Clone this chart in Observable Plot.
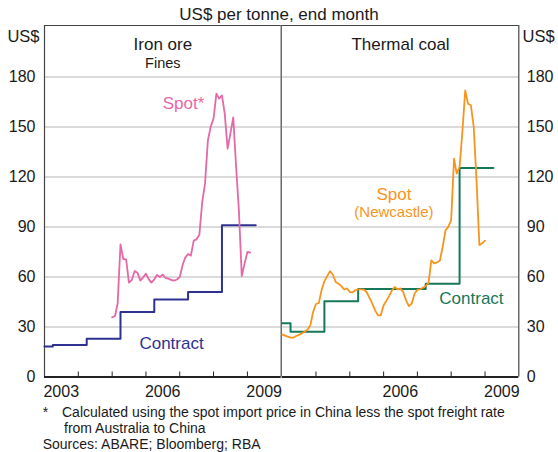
<!DOCTYPE html>
<html><head><meta charset="utf-8">
<script src="https://cdn.jsdelivr.net/npm/d3@7"></script>
<script src="https://cdn.jsdelivr.net/npm/@observablehq/plot@0.6"></script>
<style>
body{margin:0;background:#fff;font-family:"Liberation Sans",Arial,sans-serif;color:#1a1a1a}
#wrap{position:relative;width:558px;height:452px;overflow:hidden}
#title{position:absolute;left:0;width:558px;top:4.6px;text-align:center;font-size:17px;line-height:20px}
#left{position:absolute;left:0;top:22px}
#right{position:absolute;left:281px;top:22px}
.fn{position:absolute;font-size:14px;line-height:16px;white-space:nowrap}
</style></head><body>
<div id="wrap">
<div id="title">US$ per tonne, end month</div>
<div id="left"></div><div id="right"></div>
<div class="fn" style="left:42.7px;top:403.7px">*</div>
<div class="fn" style="left:62px;top:403.7px">Calculated using the spot import price in China less the spot freight rate</div>
<div class="fn" style="left:64px;top:419.7px">from Australia to China</div>
<div class="fn" style="left:42.7px;top:435.7px">Sources: ABARE; Bloomberg; RBA</div>
</div>
<script>
// ---- data ----
const ironContractDates = ["2003-01","2003-04","2004-04","2005-04","2006-04","2007-04","2008-04","2009-04"];
const ironContract = [18.3, 19.2, 23, 39, 46.5, 51, 91, 91];
const ironSpotStart = "2005-01";
const ironSpot = [35.8, 36.6, 44, 79.6, 70.8, 70.6, 56.6, 58.2, 63.6, 62.6, 57.8, 59.8, 62, 58.6, 56.6, 58.6, 61.2, 60, 61.4, 59.4, 59, 58.2, 57.8, 58.5, 60, 67.2, 71.6, 73.8, 72.8, 81.8, 82.6, 85.4, 105, 116, 142, 150, 155, 170, 167, 169, 158, 137, 146, 155.8, 126, 100, 60.6, 68, 75, 74.6];
const coalContractDates = ["2003-01","2003-04","2004-04","2005-04","2007-04","2008-04","2009-04"];
const coalContract = [32.2, 27.2, 45.5, 52.8, 56, 125.4, 125.4];
const coalSpotStart = "2003-01";
const coalSpot = [25.6, 24.8, 24.2, 23.6, 23.6, 24.6, 25.3, 26.2, 27.2, 28.4, 31, 39, 43.8, 44.4, 52, 57.5, 60.5, 63.5, 61.5, 57, 56, 54.5, 52.5, 53.2, 51, 50.8, 52, 52.6, 52.6, 52.4, 51, 47.5, 44, 40, 37, 37, 43, 45.8, 48.5, 52, 54, 52.6, 53.2, 51, 46, 42.5, 44, 50, 52.4, 52.6, 53.5, 54.6, 56.5, 70, 68.2, 68.8, 69.8, 78, 88, 90.2, 94, 131, 122, 126, 147, 172, 164, 163, 150, 118, 79.2, 80.2, 81.8];
const yTicks = [0, 30, 60, 90, 120, 150, 180];
const gridValues = [30, 60, 90, 120, 150, 180];
const leftYearLabels = [2003, 2006, 2009];
const rightYearLabels = [2006, 2009];
const yearBoundaries = [2004, 2005, 2006, 2007, 2008, 2009];

// ---- helpers ----
const stepTable = (dates, vals) => dates.map((d, i) => ({date: new Date(d), value: vals[i]}));
const monthTable = (start, vals) => vals.map((v, i) => ({date: d3.utcMonth.offset(new Date(start), i), value: v}));
const yf = y => new Date(Date.UTC(Math.floor(y), 0, 1) + (y - Math.floor(y)) * 365.25 * 864e5);
const midYear = y => new Date(Date.UTC(y, 6, 1));
const yearStart = y => new Date(Date.UTC(y, 0, 1));

const X0 = yearStart(2003), X1 = yearStart(2010);
const YMAX = 210.9;
const FONT = '"Liberation Sans", Arial, sans-serif';
const PINK = "#e668a6", BLUE = "#2e3192", ORANGE = "#f7941d", GREEN = "#16785a";
const GRID = "#b5b5b5", FRAME = "#444";

const common = {
  height: 380,
  marginTop: 3,
  marginBottom: 25.5,
  x: {type: "utc", domain: [X0, X1]},
  y: {domain: [0, YMAX]},
  style: {fontFamily: FONT, fontSize: "16px", color: "#1a1a1a", background: "transparent", overflow: "visible"}
};

const left = Plot.plot({
  ...common,
  width: 281,
  marginLeft: 44,
  marginRight: 0.3,
  marks: [
    Plot.ruleY(gridValues, {stroke: GRID, strokeWidth: 1}),
    Plot.ruleX(yearBoundaries.map(yearStart), {y1: 0, y2: 3, stroke: "#222", strokeWidth: 1}),
    Plot.ruleX([X0, X1], {stroke: FRAME, strokeWidth: 1.2}),
    Plot.ruleY([YMAX], {stroke: FRAME, strokeWidth: 1.2}),
    Plot.ruleY([0], {stroke: "#222", strokeWidth: 1.8}),
    Plot.axisY({ticks: yTicks, anchor: "left", tickSize: 0, tickPadding: 9, label: null, fontSize: 16}),
    Plot.axisX({ticks: leftYearLabels.map(midYear), anchor: "bottom", tickSize: 0, tickPadding: 9, label: null, tickFormat: d => String(d.getUTCFullYear()), fontSize: 16}),
    Plot.line(stepTable(ironContractDates, ironContract), {x: "date", y: "value", curve: "step-after", stroke: BLUE, strokeWidth: 2}),
    Plot.line(monthTable(ironSpotStart, ironSpot), {x: "date", y: "value", stroke: PINK, strokeWidth: 1.8}),
    Plot.text(["Iron ore"], {frameAnchor: "top", lineAnchor: "middle", dy: 19.3, fontSize: 17}),
    Plot.text(["Fines"], {frameAnchor: "top", lineAnchor: "middle", dy: 37.4, fontSize: 14.5}),
    Plot.text(["US$"], {frameAnchor: "top-left", lineAnchor: "middle", dx: -5, dy: 11.2, textAnchor: "end", fontSize: 16.5}),
    Plot.text(["Spot*"], {x: yf(2007.112), y: 164.2, fill: PINK, fontSize: 17}),
    Plot.text(["Contract"], {x: yf(2006.757), y: 20.2, fill: BLUE, fontSize: 17})
  ]
});

const right = Plot.plot({
  ...common,
  width: 277,
  marginLeft: 0.7,
  marginRight: 39.7,
  marks: [
    Plot.ruleY(gridValues, {stroke: GRID, strokeWidth: 1}),
    Plot.ruleX(yearBoundaries.map(yearStart), {y1: 0, y2: 3, stroke: "#222", strokeWidth: 1}),
    Plot.ruleX([X1], {stroke: FRAME, strokeWidth: 1.2}),
    Plot.ruleY([YMAX], {stroke: FRAME, strokeWidth: 1.2}),
    Plot.ruleY([0], {stroke: "#222", strokeWidth: 1.8}),
    Plot.axisY({ticks: yTicks, anchor: "right", tickSize: 0, tickPadding: 8, label: null, fontSize: 16}),
    Plot.axisX({ticks: rightYearLabels.map(midYear), anchor: "bottom", tickSize: 0, tickPadding: 9, label: null, tickFormat: d => String(d.getUTCFullYear()), fontSize: 16}),
    Plot.line(stepTable(coalContractDates, coalContract), {x: "date", y: "value", curve: "step-after", stroke: GREEN, strokeWidth: 2}),
    Plot.line(monthTable(coalSpotStart, coalSpot), {x: "date", y: "value", stroke: ORANGE, strokeWidth: 1.8}),
    Plot.text(["Thermal coal"], {frameAnchor: "top", lineAnchor: "middle", dy: 19.3, fontSize: 17}),
    Plot.text(["US$"], {frameAnchor: "top-right", lineAnchor: "middle", dx: 3.7, dy: 11.2, textAnchor: "start", fontSize: 16.5}),
    Plot.text(["Spot"], {x: yf(2006.305), y: 109.6, fill: ORANGE, fontSize: 17}),
    Plot.text(["(Newcastle)"], {x: yf(2006.305), y: 99, fill: ORANGE, fontSize: 15}),
    Plot.text(["Contract"], {x: yf(2008.60), y: 46.8, fill: GREEN, fontSize: 17})
  ]
});

document.getElementById("left").appendChild(left);
document.getElementById("right").appendChild(right);
</script>
</body></html>
